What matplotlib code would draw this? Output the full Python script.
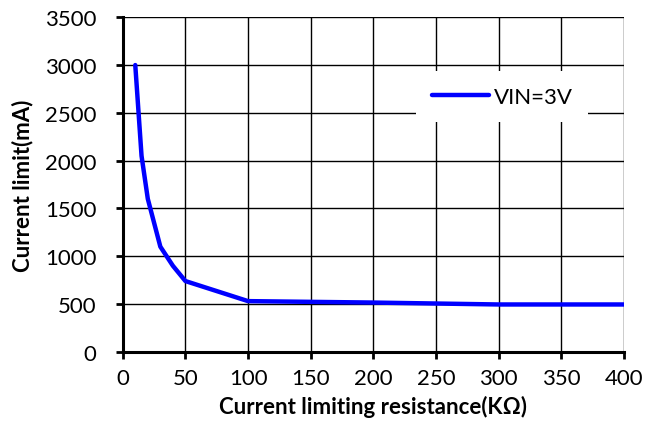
import matplotlib
matplotlib.use("Agg")
import matplotlib.pyplot as plt

# Current limit vs. current limiting resistance
resistance_kohm = [10, 15, 20, 30, 40, 50, 100, 200, 300, 400]
current_limit_ma = [3000, 2050, 1600, 1100, 900, 740, 530, 515, 495, 495]
series_label = "VIN=3V"
x_ticks = [0, 50, 100, 150, 200, 250, 300, 350, 400]
y_ticks = [0, 500, 1000, 1500, 2000, 2500, 3000, 3500]

plt.rcParams["font.family"] = ["Lato", "DejaVu Sans"]

fig = plt.figure(figsize=(6.46, 4.35), dpi=100)
ax = fig.add_axes([0.19, 0.189, 0.776, 0.769])

ax.plot(resistance_kohm, current_limit_ma, color="#0000ff", lw=3.2,
        solid_capstyle="round", solid_joinstyle="round", label=series_label, zorder=3)

ax.set_xlim(0, 400)
ax.set_ylim(0, 3500)
ax.set_xticks(x_ticks)
ax.set_yticks(y_ticks)
ax.grid(True, color="black", lw=1.0)
ax.set_axisbelow(True)

for side in ("top", "right"):
    ax.spines[side].set_visible(False)
for side in ("left", "bottom"):
    ax.spines[side].set_linewidth(2.2)
    ax.spines[side].set_color("black")

ax.tick_params(axis="both", direction="out", length=5, width=2, labelsize=16,
               colors="black")
ax.tick_params(axis="y", pad=14)
ax.tick_params(axis="x", pad=7)

ax.set_xlabel("Current limiting resistance(KΩ)", fontsize=16, fontweight="bold", labelpad=5)
ax.set_ylabel("Current limit(mA)", fontsize=16, fontweight="bold", labelpad=8)

leg = ax.legend(loc="center", bbox_to_anchor=(0.757, 0.763), fontsize=16,
                frameon=True, fancybox=False, handlelength=2.6, handletextpad=0.2,
                borderpad=0.7, borderaxespad=0)
leg.get_frame().set_facecolor("white")
leg.get_frame().set_edgecolor("none")
leg.get_frame().set_alpha(1.0)

fig.savefig("out.png", dpi=100)
